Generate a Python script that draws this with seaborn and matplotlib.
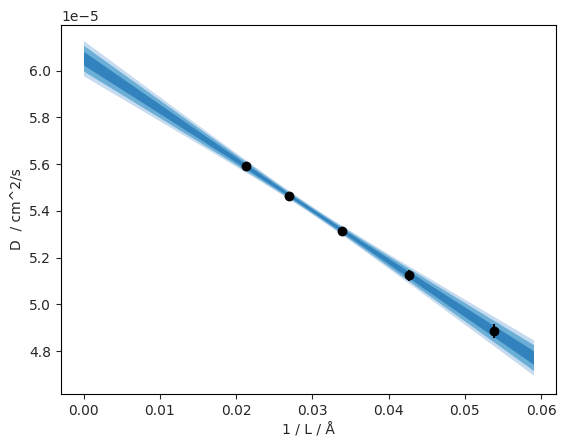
import numpy as np
import matplotlib
matplotlib.use("Agg")
import matplotlib.pyplot as plt
import seaborn as sns

# data points (1/L in 1/Å, D in cm^2/s)
inv_L = [0.0213, 0.0269, 0.0339, 0.0427, 0.0538]
D_vals = [5.592e-5, 5.464e-5, 5.313e-5, 5.124e-5, 4.884e-5]
D_err = [0.006e-5, 0.007e-5, 0.006e-5, 0.025e-5, 0.03e-5]

# linear fit parameters (intercept, slope) and their uncertainty
intercept = 6.054e-5
slope = -21.73e-5
sigma_center = 0.0065e-5   # std of fit at x_mean
x_mean = 0.0295
sigma_slope = 0.96e-5
band_levels = [2.6, 1.9, 1.0]
band_colors = ["#c6dbef", "#6baed6", "#3182bd"]
x_max = 0.059

sns.set_style("ticks")
plt.rcParams['font.family'] = ['DejaVu Sans']
fig = plt.figure(figsize=(5.67, 4.48), dpi=100)
ax = fig.add_axes([61/567, 54/448, 495/567, 369/448])

xs = np.linspace(0, x_max, 200)
mean = intercept + slope * xs
sig = np.sqrt(sigma_center**2 + (xs - x_mean)**2 * sigma_slope**2)
for lvl, col in zip(band_levels, band_colors):
    ax.fill_between(xs, mean - lvl * sig, mean + lvl * sig, color=col, linewidth=0)

ax.errorbar(inv_L, D_vals, yerr=D_err, fmt='none', ecolor='black', elinewidth=1.5, zorder=3)
sns.scatterplot(x=inv_L, y=D_vals, color='black', s=50, linewidth=0, ax=ax, zorder=4)

ax.set_ylim(4.616e-5, 6.196e-5)
ax.set_xlabel("1 / L / Å")
ax.set_ylabel("D  / cm^2/s")
for s in ax.spines.values():
    s.set_visible(True)
    s.set_color('black')
fig.savefig("out.png", dpi=100)
